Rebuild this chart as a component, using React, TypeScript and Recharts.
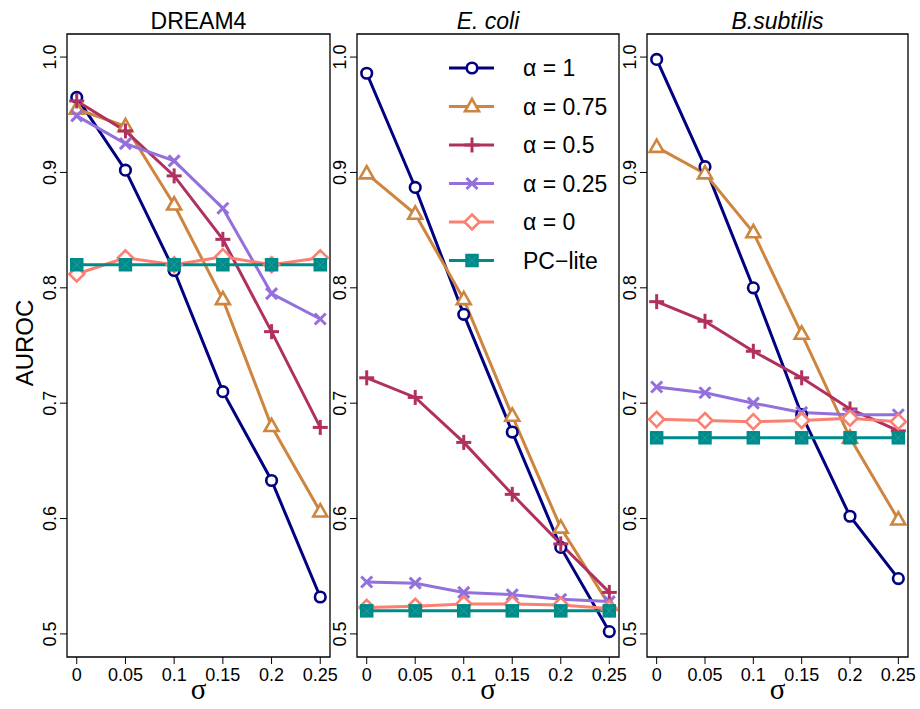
import React from 'react';
import { LineChart, Line, XAxis, YAxis, ReferenceArea, Legend } from 'recharts';

// ---------- data ----------
const sigma = [0, 0.05, 0.1, 0.15, 0.2, 0.25];
const xTicks = [0, 0.05, 0.1, 0.15, 0.2, 0.25];
const xTickLabels = ['0', '0.05', '0.1', '0.15', '0.2', '0.25'];
const yTicks = [0.5, 0.6, 0.7, 0.8, 0.9, 1.0];
const yTickLabels = ['0.5', '0.6', '0.7', '0.8', '0.9', '1.0'];
const panelTitles = ['DREAM4', 'E. coli', 'B.subtilis'];
const seriesNames = ['α = 1', 'α = 0.75', 'α = 0.5', 'α = 0.25', 'α = 0', 'PC−lite'];

const dream4Alpha1 = [0.965, 0.902, 0.815, 0.71, 0.633, 0.532];
const dream4Alpha075 = [0.955, 0.94, 0.872, 0.79, 0.68, 0.606];
const dream4Alpha05 = [0.962, 0.936, 0.897, 0.842, 0.762, 0.679];
const dream4Alpha025 = [0.949, 0.925, 0.91, 0.869, 0.795, 0.773];
const dream4Alpha0 = [0.812, 0.826, 0.82, 0.827, 0.82, 0.826];
const dream4PcLite = [0.82, 0.82, 0.82, 0.82, 0.82, 0.82];

const ecoliAlpha1 = [0.986, 0.887, 0.777, 0.675, 0.575, 0.502];
const ecoliAlpha075 = [0.899, 0.864, 0.79, 0.689, 0.592, 0.525];
const ecoliAlpha05 = [0.722, 0.705, 0.666, 0.621, 0.578, 0.536];
const ecoliAlpha025 = [0.545, 0.544, 0.536, 0.534, 0.53, 0.528];
const ecoliAlpha0 = [0.523, 0.524, 0.526, 0.526, 0.525, 0.522];
const ecoliPcLite = [0.52, 0.52, 0.52, 0.52, 0.52, 0.52];

const bsubAlpha1 = [0.998, 0.905, 0.8, 0.69, 0.602, 0.548];
const bsubAlpha075 = [0.922, 0.899, 0.848, 0.76, 0.67, 0.599];
const bsubAlpha05 = [0.788, 0.771, 0.745, 0.722, 0.695, 0.676];
const bsubAlpha025 = [0.714, 0.709, 0.7, 0.692, 0.69, 0.69];
const bsubAlpha0 = [0.686, 0.685, 0.684, 0.685, 0.687, 0.684];
const bsubPcLite = [0.67, 0.67, 0.67, 0.67, 0.67, 0.67];

// ---------- styles ----------
const seriesKeys = ['a1', 'a075', 'a05', 'a025', 'a0', 'pc'];
const seriesColors = ['#000080', '#CD853F', '#B03060', '#9370DB', '#FA8072', '#008B8B'];
const seriesShapes = ['circle', 'triangle', 'plus', 'cross', 'diamond', 'square'];

const FONT = '"Liberation Sans", Arial, Helvetica, sans-serif';

function buildRows(cols: number[][]) {
  return sigma.map((s, i) => {
    const row: Record<string, number> = { sigma: s };
    seriesKeys.forEach((k, j) => {
      row[k] = cols[j][i];
    });
    return row;
  });
}

const panelData = [
  buildRows([dream4Alpha1, dream4Alpha075, dream4Alpha05, dream4Alpha025, dream4Alpha0, dream4PcLite]),
  buildRows([ecoliAlpha1, ecoliAlpha075, ecoliAlpha05, ecoliAlpha025, ecoliAlpha0, ecoliPcLite]),
  buildRows([bsubAlpha1, bsubAlpha075, bsubAlpha05, bsubAlpha025, bsubAlpha0, bsubPcLite]),
];

// plot-box geometry (page px)
const panels = [
  { left: 67, width: 263 },
  { left: 357, width: 262 },
  { left: 647, width: 261 },
];
const BOX_TOP = 34;
const BOX_BOTTOM = 657;
const YAXIS_W = 67;
const RIGHT_PAD = 11;
const CHART_H = 709;

function Marker({ shape, color, cx, cy }: { shape: string; color: string; cx: number; cy: number }) {
  if (cx == null || cy == null || isNaN(cx) || isNaN(cy)) return null;
  const sw = 2.6;
  switch (shape) {
    case 'circle':
      return <circle cx={cx} cy={cy} r={5.3} fill="#fff" stroke={color} strokeWidth={sw} />;
    case 'triangle':
      return (
        <polygon
          points={`${cx},${cy - 7.5} ${cx - 7},${cy + 4.8} ${cx + 7},${cy + 4.8}`}
          fill="#fff"
          stroke={color}
          strokeWidth={sw}
          strokeLinejoin="miter"
        />
      );
    case 'plus':
      return (
        <g stroke={color} strokeWidth={3}>
          <line x1={cx - 7.5} y1={cy} x2={cx + 7.5} y2={cy} />
          <line x1={cx} y1={cy - 7.5} x2={cx} y2={cy + 7.5} />
        </g>
      );
    case 'cross':
      return (
        <g stroke={color} strokeWidth={3}>
          <line x1={cx - 5.5} y1={cy - 5.5} x2={cx + 5.5} y2={cy + 5.5} />
          <line x1={cx - 5.5} y1={cy + 5.5} x2={cx + 5.5} y2={cy - 5.5} />
        </g>
      );
    case 'diamond':
      return (
        <polygon
          points={`${cx},${cy - 7.5} ${cx + 7.5},${cy} ${cx},${cy + 7.5} ${cx - 7.5},${cy}`}
          fill="#fff"
          stroke={color}
          strokeWidth={sw}
        />
      );
    case 'square':
    default:
      return (
        <g>
          <rect x={cx - 6} y={cy - 6} width={12} height={12} fill={color} stroke={color} strokeWidth={1.5} />
          <g stroke="#3fb3b3" strokeWidth={0.8} opacity={0.7}>
            <line x1={cx - 4} y1={cy - 4} x2={cx + 4} y2={cy + 4} />
            <line x1={cx - 4} y1={cy + 4} x2={cx + 4} y2={cy - 4} />
          </g>
        </g>
      );
  }
}

const YTick = (props: any) => {
  const { x, y, payload } = props;
  const idx = yTicks.indexOf(payload.value);
  return (
    <text
      transform={`translate(${x},${y}) rotate(-90)`}
      textAnchor="middle"
      fontSize={18}
      fontFamily={FONT}
      fill="#000"
    >
      {idx >= 0 ? yTickLabels[idx] : payload.value}
    </text>
  );
};

const XTick = (props: any) => {
  const { x, y, payload } = props;
  const idx = xTicks.indexOf(payload.value);
  return (
    <text x={x} y={y + 13} textAnchor="middle" fontSize={18} fontFamily={FONT} fill="#000">
      {idx >= 0 ? xTickLabels[idx] : payload.value}
    </text>
  );
};

const LegendContent = () => {
  const rowH = 38.5;
  return (
    <svg width={180} height={240} style={{ overflow: 'visible', display: 'block' }}>
      {seriesNames.map((name, i) => {
        const cy = 23 + i * rowH;
        return (
          <g key={name}>
            <line x1={9} y1={cy} x2={54} y2={cy} stroke={seriesColors[i]} strokeWidth={3} />
            <Marker shape={seriesShapes[i]} color={seriesColors[i]} cx={32} cy={cy} />
            <text x={83} y={cy + 8} fontSize={23} fontFamily={FONT} fill="#000">
              {name}
            </text>
          </g>
        );
      })}
    </svg>
  );
};

function Panel({ index }: { index: number }) {
  const p = panels[index];
  const chartLeft = p.left - YAXIS_W;
  const chartW = YAXIS_W + p.width + RIGHT_PAD;
  return (
    <div style={{ position: 'absolute', left: chartLeft, top: 0 }}>
      <LineChart
        width={chartW}
        height={CHART_H}
        data={panelData[index]}
        margin={{ top: BOX_TOP, right: RIGHT_PAD, bottom: 0, left: 0 }}
        style={{ overflow: 'visible' }}
      >
        <XAxis
          dataKey="sigma"
          type="number"
          domain={[-0.01, 0.26]}
          ticks={xTicks}
          allowDataOverflow
          axisLine={false}
          tickLine={{ stroke: '#000', strokeWidth: 1 }}
          tickSize={7}
          tickMargin={4}
          height={CHART_H - BOX_BOTTOM}
          tick={<XTick />}
          interval={0}
        />
        <YAxis
          type="number"
          domain={[0.48, 1.02]}
          ticks={yTicks}
          allowDataOverflow
          axisLine={false}
          tickLine={{ stroke: '#000', strokeWidth: 1 }}
          tickSize={7}
          tickMargin={4}
          width={YAXIS_W}
          tick={<YTick />}
          interval={0}
        />
        <ReferenceArea
          x1={-0.01}
          x2={0.26}
          y1={0.48}
          y2={1.02}
          fill="none"
          fillOpacity={0}
          stroke="#000"
          strokeWidth={1.3}
          ifOverflow="visible"
        />
        {seriesKeys.map((k, j) => (
          <Line
            key={k}
            dataKey={k}
            type="linear"
            stroke={seriesColors[j]}
            strokeWidth={3}
            isAnimationActive={false}
            activeDot={false}
            dot={(dp: any) => (
              <Marker
                key={`${k}-${dp.index}`}
                shape={seriesShapes[j]}
                color={seriesColors[j]}
                cx={dp.cx}
                cy={dp.cy}
              />
            )}
          />
        ))}
        {index === 1 && (
          <Legend
            layout="vertical"
            align="center"
            verticalAlign="middle"
            content={<LegendContent />}
            wrapperStyle={{ position: 'absolute', left: 440 - chartLeft, top: 45, width: 180, height: 240 }}
          />
        )}
      </LineChart>
    </div>
  );
}

export default function App() {
  return (
    <div style={{ position: 'absolute', left: 0, top: 0, width: 920, height: 709, background: '#fff', overflow: 'hidden' }}>
      {[0, 1, 2].map((i) => (
        <Panel key={i} index={i} />
      ))}
      <svg
        width={920}
        height={709}
        style={{ position: 'absolute', left: 0, top: 0, pointerEvents: 'none' }}
      >
        {panels.map((p, i) => (
          <text
            key={`t${i}`}
            x={p.left + p.width / 2}
            y={29}
            textAnchor="middle"
            fontSize={23}
            fontFamily={FONT}
            fontStyle={i === 0 ? 'normal' : 'italic'}
            fill="#000"
          >
            {panelTitles[i]}
          </text>
        ))}
        {panels.map((p, i) => (
          <text
            key={`s${i}`}
            x={p.left + p.width / 2}
            y={699}
            textAnchor="middle"
            fontSize={29}
            fontFamily='"Liberation Serif", "DejaVu Serif", serif'
            fill="#000"
          >
            σ
          </text>
        ))}
        <text
          transform={`translate(33,343) rotate(-90)`}
          textAnchor="middle"
          fontSize={24}
          fontFamily={FONT}
          fill="#000"
        >
          AUROC
        </text>
      </svg>
    </div>
  );
}
